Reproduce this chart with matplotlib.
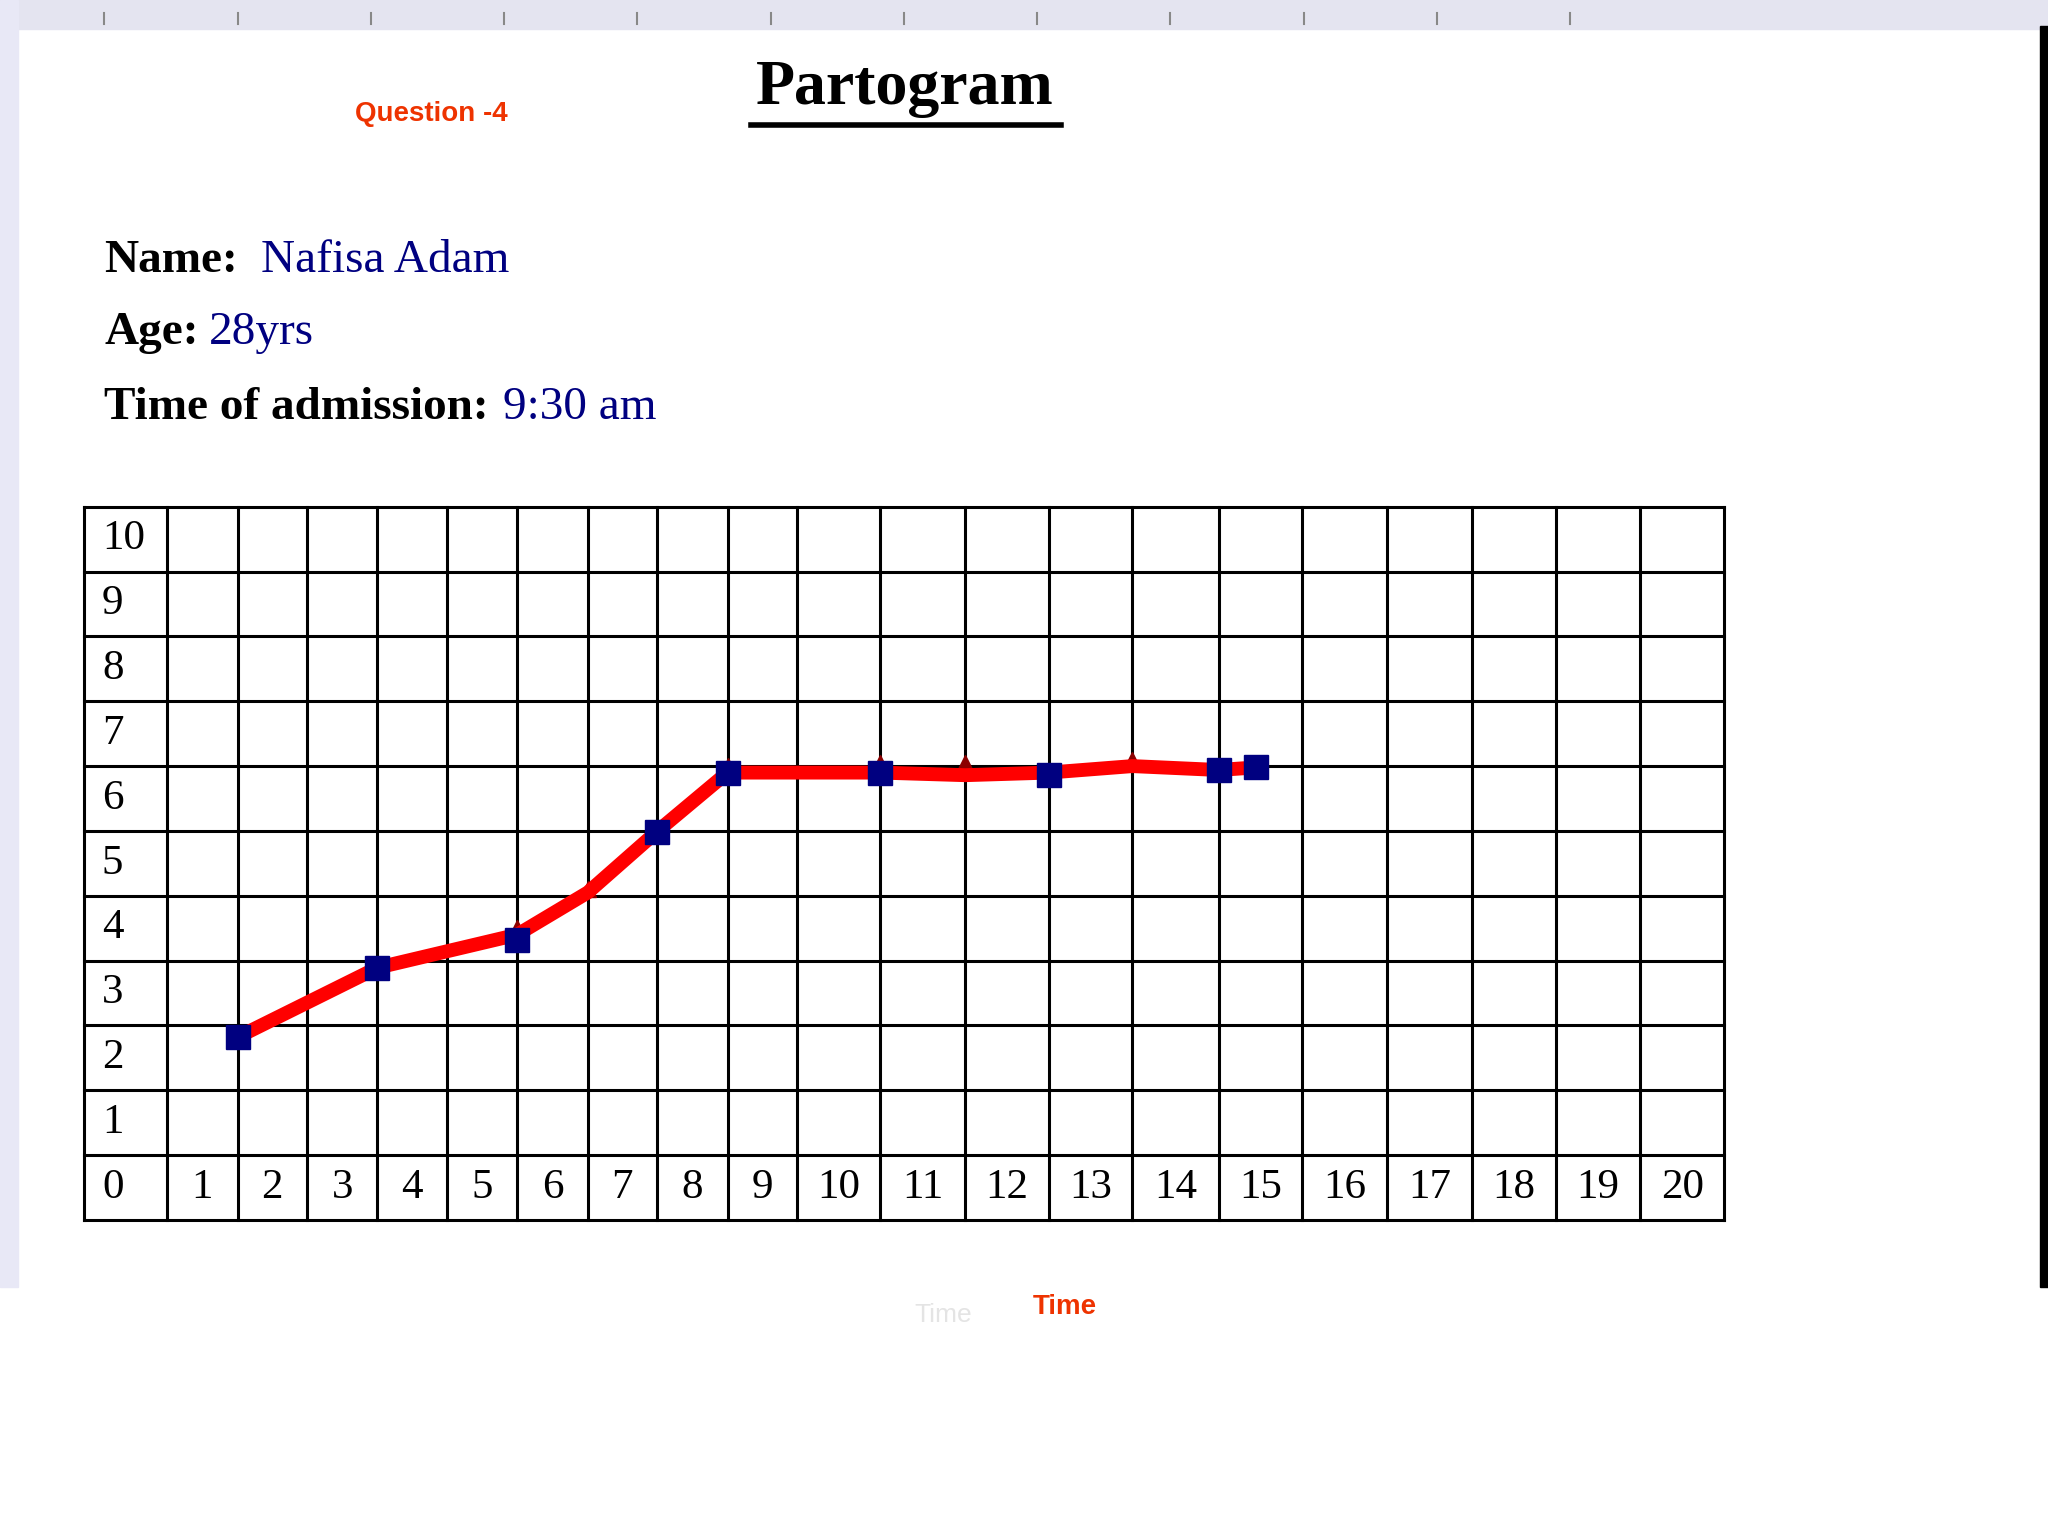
import numpy as np
import matplotlib.pyplot as plt
from matplotlib.patches import Rectangle

# data (x in grid columns, y in grid rows)
line_x = [2, 4, 6, 7, 8, 9, 11, 12, 13, 14, 15, 15.45]
line_y = [2.82, 3.89, 4.40, 5.05, 5.99, 6.9, 6.9, 6.86, 6.9, 7.0, 6.94, 6.98]
square_x = [2, 4, 6, 8, 9, 11, 13, 15, 15.45]
square_y = [2.82, 3.89, 4.31, 5.99, 6.9, 6.9, 6.86, 6.94, 6.98]
tri_x = [6, 7, 9, 11, 12, 14]
tri_y = [4.5, 5.1, 7.0, 7.05, 7.05, 7.1]
x_labels = [str(i) for i in range(1, 21)]
y_labels = [str(i) for i in range(11)]

# grid geometry in page pixels (1568 x 1176 page)
col_edges = [64, 128, 182, 235, 289, 342, 396, 450, 503, 557, 610, 674,
             739, 803, 867, 933, 997, 1062, 1127, 1191, 1256, 1320]
top, bottom = 388, 934
row_h = (bottom - top) / 11

def px(x):
    return np.interp(x, np.arange(len(col_edges)), col_edges)

def py(y):
    return bottom - np.asarray(y) * row_h

fig = plt.figure(figsize=(20.48, 15.36), dpi=100)
ax = fig.add_axes([0, 0, 1, 1])
ax.set_xlim(0, 1568)
ax.set_ylim(1176, 0)
ax.axis('off')

# page decoration
ax.add_patch(Rectangle((0, 0), 1568, 22, color='#e4e4f0', zorder=0))
ax.add_patch(Rectangle((0, 0), 14, 985, color='#e8e8f6', zorder=0))
ax.add_patch(Rectangle((1562, 20), 6, 965, color='black', zorder=0))
for t in np.arange(80, 1300, 102):
    ax.plot([t, t], [10, 18], color='#888888', lw=1.5)

# grid
for xe in col_edges:
    ax.plot([xe, xe], [top, bottom], color='black', lw=2.2)
for r in range(12):
    ax.plot([64, 1320], [top + r * row_h] * 2, color='black', lw=2.2)
serif = 'Liberation Serif'
for i, lab in enumerate(y_labels[::-1]):
    ax.text(78, top + (i + 0.5) * row_h, lab, family=serif, fontsize=31,
            ha='left', va='center')
for i, lab in enumerate(x_labels, start=1):
    xc = (col_edges[i] + col_edges[i + 1]) / 2
    ax.text(xc, bottom - 0.5 * row_h, lab, family=serif, fontsize=31,
            ha='center', va='center')

# data
ax.plot(px(line_x), py(line_y), color='#ff0000', lw=10, solid_capstyle='butt', zorder=3)
ax.plot(px(tri_x), py(tri_y), '^', color='#8b0000', ms=12, zorder=2)
ax.plot(px(square_x), py(square_y), 's', color='#000080', ms=17, zorder=4)

# texts
ax.text(330, 87, 'Question -4', color='#ee3300', fontsize=20, weight='bold',
        family='Liberation Sans', ha='center', va='center')
ax.text(693, 68, 'Partogram', fontsize=46, weight='bold', family=serif,
        ha='center', va='center')
ax.plot([575, 812], [96, 96], color='black', lw=4)
ax.text(80, 200, 'Name:', fontsize=34, weight='bold', family=serif, va='center')
ax.text(200, 200, 'Nafisa Adam', fontsize=34, color='#000080', family=serif, va='center')
ax.text(80, 255, 'Age:', fontsize=34, weight='bold', family=serif, va='center')
ax.text(160, 255, '28yrs', fontsize=34, color='#000080', family=serif, va='center')
ax.text(80, 312, 'Time of admission:', fontsize=34, weight='bold', family=serif, va='center')
ax.text(385, 312, '9:30 am', fontsize=34, color='#000080', family=serif, va='center')
ax.text(722, 1007, 'Time', color='#e4e4e4', fontsize=19, family='Liberation Sans',
        ha='center', va='center')
ax.text(815, 1001, 'Time', color='#ee3300', fontsize=20, weight='bold',
        family='Liberation Sans', ha='center', va='center')

fig.savefig('out.png', dpi=100)
plt.close()
